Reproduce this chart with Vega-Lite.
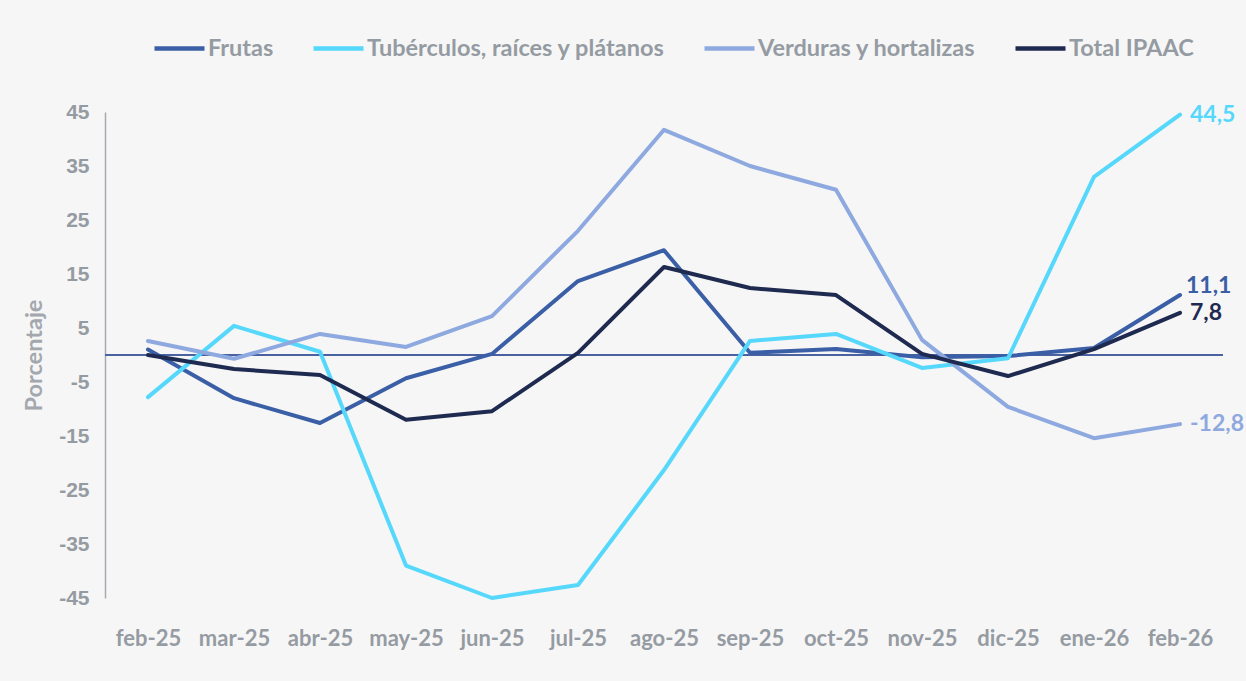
{
  "$schema": "https://vega.github.io/schema/vega-lite/v6.json",
  "width": 1118,
  "height": 486,
  "autosize": {"type": "none"},
  "padding": {"left": 105, "top": 112, "right": 23, "bottom": 83},
  "background": "#f6f6f6",
  "config": {
    "view": {"stroke": null},
    "locale": {"number": {"decimal": ",", "thousands": ".", "grouping": [3], "currency": ["", ""], "minus": "-"}}
  },
  "data": {
    "values": [
      {"serie": "Frutas", "mes": "feb-25", "valor": 1.0},
      {"serie": "Frutas", "mes": "mar-25", "valor": -8.0},
      {"serie": "Frutas", "mes": "abr-25", "valor": -12.6},
      {"serie": "Frutas", "mes": "may-25", "valor": -4.3},
      {"serie": "Frutas", "mes": "jun-25", "valor": 0.2},
      {"serie": "Frutas", "mes": "jul-25", "valor": 13.7},
      {"serie": "Frutas", "mes": "ago-25", "valor": 19.4},
      {"serie": "Frutas", "mes": "sep-25", "valor": 0.4},
      {"serie": "Frutas", "mes": "oct-25", "valor": 1.1},
      {"serie": "Frutas", "mes": "nov-25", "valor": -0.4},
      {"serie": "Frutas", "mes": "dic-25", "valor": -0.2},
      {"serie": "Frutas", "mes": "ene-26", "valor": 1.3},
      {"serie": "Frutas", "mes": "feb-26", "valor": 11.1},
      {"serie": "Tubérculos, raíces y plátanos", "mes": "feb-25", "valor": -7.8},
      {"serie": "Tubérculos, raíces y plátanos", "mes": "mar-25", "valor": 5.4},
      {"serie": "Tubérculos, raíces y plátanos", "mes": "abr-25", "valor": 0.6},
      {"serie": "Tubérculos, raíces y plátanos", "mes": "may-25", "valor": -39.0},
      {"serie": "Tubérculos, raíces y plátanos", "mes": "jun-25", "valor": -45.0},
      {"serie": "Tubérculos, raíces y plátanos", "mes": "jul-25", "valor": -42.6},
      {"serie": "Tubérculos, raíces y plátanos", "mes": "ago-25", "valor": -21.3},
      {"serie": "Tubérculos, raíces y plátanos", "mes": "sep-25", "valor": 2.6},
      {"serie": "Tubérculos, raíces y plátanos", "mes": "oct-25", "valor": 3.9},
      {"serie": "Tubérculos, raíces y plátanos", "mes": "nov-25", "valor": -2.4},
      {"serie": "Tubérculos, raíces y plátanos", "mes": "dic-25", "valor": -0.6},
      {"serie": "Tubérculos, raíces y plátanos", "mes": "ene-26", "valor": 33.0},
      {"serie": "Tubérculos, raíces y plátanos", "mes": "feb-26", "valor": 44.5},
      {"serie": "Verduras y hortalizas", "mes": "feb-25", "valor": 2.6},
      {"serie": "Verduras y hortalizas", "mes": "mar-25", "valor": -0.7},
      {"serie": "Verduras y hortalizas", "mes": "abr-25", "valor": 3.9},
      {"serie": "Verduras y hortalizas", "mes": "may-25", "valor": 1.5},
      {"serie": "Verduras y hortalizas", "mes": "jun-25", "valor": 7.2},
      {"serie": "Verduras y hortalizas", "mes": "jul-25", "valor": 23.0},
      {"serie": "Verduras y hortalizas", "mes": "ago-25", "valor": 41.7},
      {"serie": "Verduras y hortalizas", "mes": "sep-25", "valor": 35.0},
      {"serie": "Verduras y hortalizas", "mes": "oct-25", "valor": 30.6},
      {"serie": "Verduras y hortalizas", "mes": "nov-25", "valor": 2.8},
      {"serie": "Verduras y hortalizas", "mes": "dic-25", "valor": -9.6},
      {"serie": "Verduras y hortalizas", "mes": "ene-26", "valor": -15.4},
      {"serie": "Verduras y hortalizas", "mes": "feb-26", "valor": -12.8},
      {"serie": "Total IPAAC", "mes": "feb-25", "valor": 0.0},
      {"serie": "Total IPAAC", "mes": "mar-25", "valor": -2.6},
      {"serie": "Total IPAAC", "mes": "abr-25", "valor": -3.7},
      {"serie": "Total IPAAC", "mes": "may-25", "valor": -12.0},
      {"serie": "Total IPAAC", "mes": "jun-25", "valor": -10.4},
      {"serie": "Total IPAAC", "mes": "jul-25", "valor": 0.4},
      {"serie": "Total IPAAC", "mes": "ago-25", "valor": 16.3},
      {"serie": "Total IPAAC", "mes": "sep-25", "valor": 12.4},
      {"serie": "Total IPAAC", "mes": "oct-25", "valor": 11.1},
      {"serie": "Total IPAAC", "mes": "nov-25", "valor": 0.2},
      {"serie": "Total IPAAC", "mes": "dic-25", "valor": -3.9},
      {"serie": "Total IPAAC", "mes": "ene-26", "valor": 1.1},
      {"serie": "Total IPAAC", "mes": "feb-26", "valor": 7.8}
    ]
  },
  "encoding": {
    "x": {
      "field": "mes", "type": "ordinal",
      "sort": ["feb-25", "mar-25", "abr-25", "may-25", "jun-25", "jul-25", "ago-25", "sep-25", "oct-25", "nov-25", "dic-25", "ene-26", "feb-26"],
      "scale": {"type": "point", "padding": 0.5},
      "axis": {"title": null, "domain": false, "ticks": false, "labelAngle": 0, "labelFont": "Lato", "labelFontSize": 22, "labelFontWeight": "bold", "labelColor": "#959ba2", "labelPadding": 30}
    },
    "y": {
      "field": "valor", "type": "quantitative",
      "scale": {"domain": [-45, 45], "nice": false, "zero": false},
      "axis": {"values": [-45, -35, -25, -15, -5, 5, 15, 25, 35, 45], "grid": false, "ticks": false, "domain": true, "domainColor": "#a7abb0", "domainWidth": 1.5, "labelFont": "Liberation Sans", "labelFontSize": 21, "labelFontWeight": "bold", "labelColor": "#959ba2", "labelPadding": 16, "title": "Porcentaje", "titleFont": "Lato", "titleFontSize": 23.5, "titleFontWeight": "bold", "titleColor": "#a3a8ae", "titlePadding": 12}
    }
  },
  "layer": [
    {
      "mark": {"type": "rule", "color": "#4a62a0", "strokeWidth": 1},
      "encoding": {"x": null, "y": {"datum": 0, "type": "quantitative"}}
    },
    {
      "mark": {"type": "line", "strokeWidth": 4, "strokeCap": "round", "strokeJoin": "round"},
      "encoding": {
        "color": {
          "field": "serie", "type": "nominal",
          "scale": {"domain": ["Frutas", "Tubérculos, raíces y plátanos", "Verduras y hortalizas", "Total IPAAC"], "range": ["#3a5fa6", "#55d8fb", "#8ea9df", "#1e2a50"]},
          "legend": {"orient": "none", "legendX": 47, "legendY": -91, "direction": "horizontal", "title": null, "padding": 0, "symbolType": "stroke", "symbolSize": 2500, "symbolStrokeWidth": 4.5, "labelFont": "Lato", "labelFontSize": 23.5, "labelFontWeight": "bold", "labelColor": "#959ba2", "labelOffset": 1, "columnPadding": 30, "labelLimit": 400}
        }
      }
    },
    {
      "transform": [{"filter": "datum.mes == 'feb-26' && datum.serie != 'Frutas'"}],
      "mark": {"type": "text", "align": "left", "baseline": "middle", "dx": 10, "font": "Lato", "fontSize": 23, "fontWeight": "bold"},
      "encoding": {
        "text": {"field": "valor", "type": "quantitative", "format": ".1f"},
        "color": {"field": "serie", "type": "nominal", "legend": null}
      }
    },
    {
      "transform": [{"filter": "datum.mes == 'feb-26' && datum.serie == 'Frutas'"}],
      "mark": {"type": "text", "align": "left", "baseline": "middle", "dx": 6, "dy": -9, "font": "Lato", "fontSize": 23, "fontWeight": "bold"},
      "encoding": {
        "text": {"field": "valor", "type": "quantitative", "format": ".1f"},
        "color": {"field": "serie", "type": "nominal", "legend": null}
      }
    }
  ]
}
